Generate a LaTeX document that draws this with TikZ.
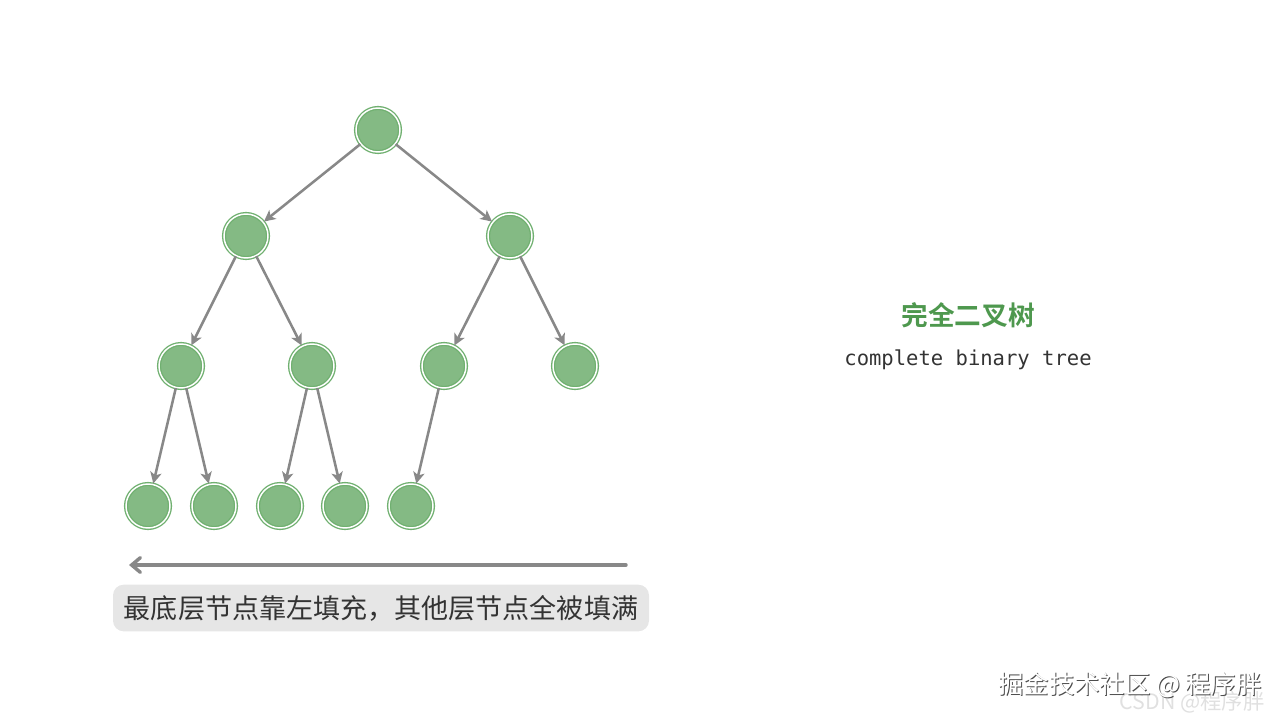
\documentclass[tikz,border=0pt]{standalone}
\usepackage{fontspec}
\newfontfamily\cjk{Noto Sans CJK SC}
\newfontfamily\cjkbold{Noto Sans CJK SC Bold}
\newfontfamily\monofont{DejaVu Sans Mono}
\usetikzlibrary{arrows.meta}
\definecolor{tgreen}{RGB}{132,186,132}
\definecolor{tring}{RGB}{112,176,112}
\definecolor{tedge}{RGB}{136,136,136}
\definecolor{ttitle}{RGB}{78,152,78}
\definecolor{ttext}{RGB}{51,51,51}
\definecolor{tbox}{RGB}{230,230,230}
\tikzset{
  treenode/.style={circle, minimum size=33pt, inner sep=0pt, fill=tgreen, draw=tring, line width=1pt, double=white, double distance=1.1pt},
  treeedge/.style={draw=tedge, line width=1.9pt, -{Stealth[length=8.5pt,width=8.5pt,inset=2.2pt]}, shorten >=0.3pt},
  bigarrow/.style={draw=tedge, line width=2.6pt, line cap=round, -{Straight Barb[length=6.5pt,width=11pt,line cap=round]}},
  labelbox/.style={fill=tbox, rounded corners=8pt, minimum width=402pt, minimum height=35pt, inner sep=0pt, font=\cjk\fontsize{20.3pt}{22pt}\selectfont, text=ttext}
}
\begin{document}
\begin{tikzpicture}[x=0.75pt,y=-0.75pt]
\useasboundingbox (0,0) rectangle (1280,720);
% nodes
\node[treenode] (n1) at (378,130) {};
\node[treenode] (n2) at (246,236) {};
\node[treenode] (n3) at (510,236) {};
\node[treenode] (n4) at (181,366) {};
\node[treenode] (n5) at (312,366) {};
\node[treenode] (n6) at (444,366) {};
\node[treenode] (n7) at (575,366) {};
\node[treenode] (n8) at (148,506) {};
\node[treenode] (n9) at (214,506) {};
\node[treenode] (n10) at (280,506) {};
\node[treenode] (n11) at (345,506) {};
\node[treenode] (n12) at (411,506) {};
% edges
\draw[treeedge] (n1) -- (n2);
\draw[treeedge] (n1) -- (n3);
\draw[treeedge] (n2) -- (n4);
\draw[treeedge] (n2) -- (n5);
\draw[treeedge] (n3) -- (n6);
\draw[treeedge] (n3) -- (n7);
\draw[treeedge] (n4) -- (n8);
\draw[treeedge] (n4) -- (n9);
\draw[treeedge] (n5) -- (n10);
\draw[treeedge] (n5) -- (n11);
\draw[treeedge] (n6) -- (n12);
% bottom arrow
\coordinate (aR) at (626,565);
\coordinate (aL) at (129,565);
\draw[bigarrow] (aR) -- (aL);
% label
\node[labelbox] (lbl) at (381,608) {最底层节点靠左填充，其他层节点全被填满};
% title
\node[font=\cjkbold\fontsize{20pt}{22pt}\selectfont, text=ttitle] (title) at (968,315) {完全二叉树};
\node[font=\monofont\fontsize{15.4pt}{18pt}\selectfont, text=ttext] (sub) at (968,360) {complete binary tree};
% watermarks
\node[font=\cjk\fontsize{16pt}{18pt}\selectfont, text=black!12] (wm2) at (1192,702) {CSDN @程序胖};
\node[font=\cjk\fontsize{19pt}{22pt}\selectfont, text=black!70] (wm1s) at (1131,686) {掘金技术社区 @ 程序胖};
\node[font=\cjk\fontsize{19pt}{22pt}\selectfont, text=white] (wm1) at (1130,685) {掘金技术社区 @ 程序胖};
\end{tikzpicture}
\end{document}
